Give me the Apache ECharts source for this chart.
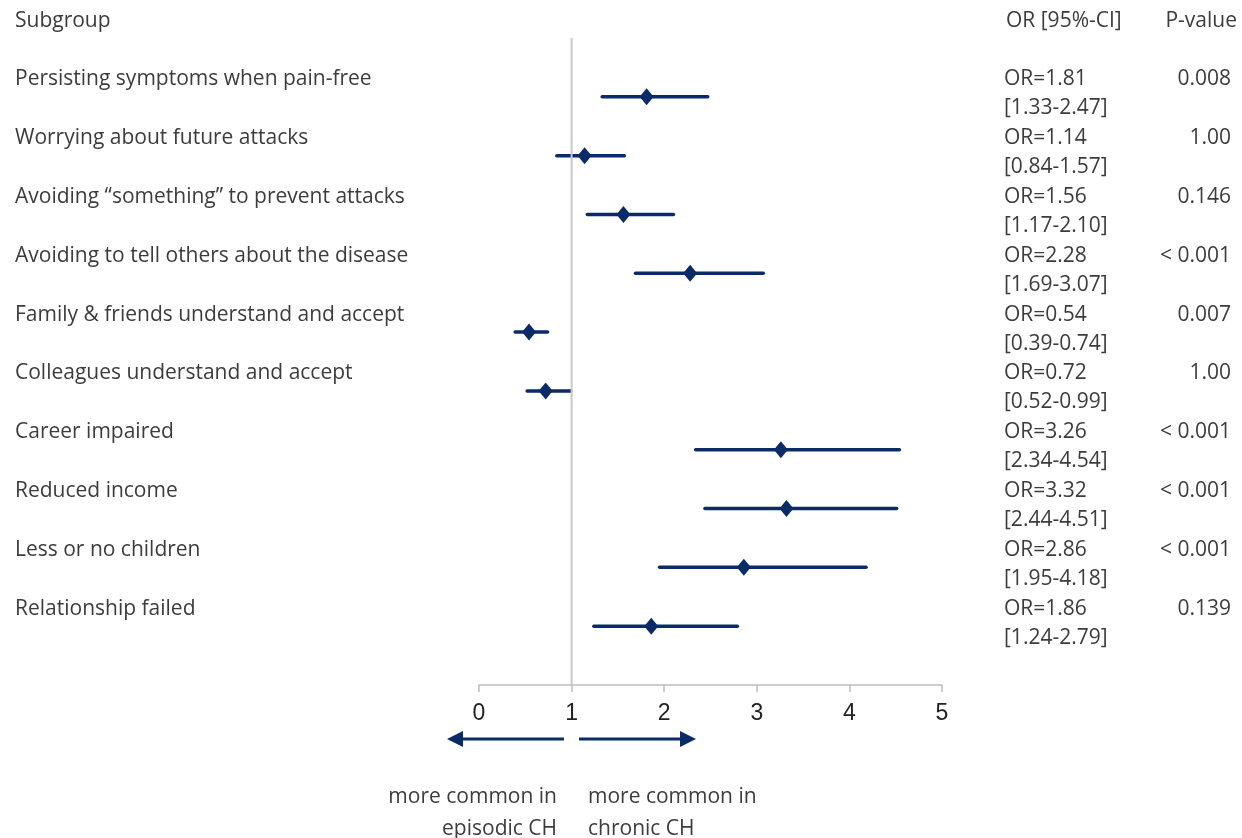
<!DOCTYPE html>
<html>
<head>
<meta charset="utf-8">
<script src="https://cdn.jsdelivr.net/npm/echarts@6/dist/echarts.min.js"></script>
<style>html,body{margin:0;padding:0;background:#fff}#c{width:1242px;height:838px}</style>
</head>
<body>
<div id="c"></div>
<script>
const subgroups = [
  'Persisting symptoms when pain-free',
  'Worrying about future attacks',
  'Avoiding \u201csomething\u201d to prevent attacks',
  'Avoiding to tell others about the disease',
  'Family & friends understand and accept',
  'Colleagues understand and accept',
  'Career impaired',
  'Reduced income',
  'Less or no children',
  'Relationship failed'
];
const orValues = [1.81, 1.14, 1.56, 2.28, 0.54, 0.72, 3.26, 3.32, 2.86, 1.86];
const ciLow    = [1.33, 0.84, 1.17, 1.69, 0.39, 0.52, 2.34, 2.44, 1.95, 1.24];
const ciHigh   = [2.47, 1.57, 2.10, 3.07, 0.74, 0.99, 4.54, 4.51, 4.18, 2.79];
const pValues  = ['0.008', '1.00', '0.146', '< 0.001', '0.007', '1.00', '< 0.001', '< 0.001', '< 0.001', '0.139'];
const xTicks = [0, 1, 2, 3, 4, 5];
const refValue = 1;

const FONT = '"Open Sans", sans-serif';
const TXT = '#3c3c3c';
const NAVY = '#0b2a68';

const chart = echarts.init(document.getElementById('c'), null, {renderer: 'canvas'});

const rows = subgroups.map((s, i) => [i + 1, orValues[i], ciLow[i], ciHigh[i], i]);

function txt(x, y, text, align) {
  return {type: 'text', x: x, y: y, style: {text: text, fill: TXT, font: '21px ' + FONT, textAlign: align || 'left', textVerticalAlign: 'middle'}};
}

chart.setOption({
  animation: false,
  grid: {left: 479, right: 300, top: 38, bottom: 153},
  xAxis: {
    type: 'value', position: 'bottom', min: xTicks[0], max: xTicks[xTicks.length - 1], interval: 1,
    splitLine: {show: false},
    axisLine: {show: true, onZero: false, lineStyle: {color: '#bfbfbf', width: 1.5}},
    axisTick: {show: true, length: 7, lineStyle: {color: '#bfbfbf', width: 1.5}},
    axisLabel: {color: '#222', fontSize: 23, fontFamily: '"Liberation Sans", Arial, sans-serif', margin: 17}
  },
  yAxis: {type: 'value', min: 0, max: subgroups.length + 1, inverse: true, show: false},
  series: [
    {
      type: 'line',
      data: [[refValue, 0], [refValue, subgroups.length + 1]],
      symbol: 'none', silent: true,
      lineStyle: {color: '#c8c8c8', width: 2}
    },
    {
      type: 'custom',
      clip: false,
      data: rows,
      renderItem: function (params, api) {
        const r = api.value(0);
        const pOr = api.coord([api.value(1), r]);
        const pLo = api.coord([api.value(2), r]);
        const pHi = api.coord([api.value(3), r]);
        const idx = api.value(4);
        const y = pOr[1];
        return {
          type: 'group',
          children: [
            {type: 'line', shape: {x1: pLo[0], y1: y, x2: pHi[0], y2: y}, style: {stroke: NAVY, lineWidth: 3.5, lineCap: 'round'}},
            {type: 'polygon', shape: {points: [[pOr[0], y - 8.5], [pOr[0] + 7, y], [pOr[0], y + 8.5], [pOr[0] - 7, y]]}, style: {fill: NAVY}},
            txt(15, y - 17.5, subgroups[idx]),
            txt(1004, y - 17.5, 'OR=' + orValues[idx].toFixed(2)),
            txt(1004, y + 11.5, '[' + ciLow[idx].toFixed(2) + '-' + ciHigh[idx].toFixed(2) + ']'),
            txt(1231, y - 17.5, pValues[idx], 'right')
          ]
        };
      }
    }
  ],
  graphic: [
    txt(15, 21.5, 'Subgroup'),
    txt(1006, 21.5, 'OR [95%-CI]'),
    txt(1237, 21.5, 'P-value', 'right'),
    {type: 'line', shape: {x1: 564, y1: 739, x2: 458, y2: 739}, style: {stroke: NAVY, lineWidth: 3}},
    {type: 'polygon', shape: {points: [[447, 739], [463, 731], [463, 747]]}, style: {fill: NAVY}},
    {type: 'line', shape: {x1: 579, y1: 739, x2: 684, y2: 739}, style: {stroke: NAVY, lineWidth: 3}},
    {type: 'polygon', shape: {points: [[696, 739], [680, 731], [680, 747]]}, style: {fill: NAVY}},
    txt(557, 797, 'more common in', 'right'),
    txt(557, 829, 'episodic CH', 'right'),
    txt(588, 797, 'more common in'),
    txt(588, 829, 'chronic CH')
  ]
});
</script>
</body>
</html>
